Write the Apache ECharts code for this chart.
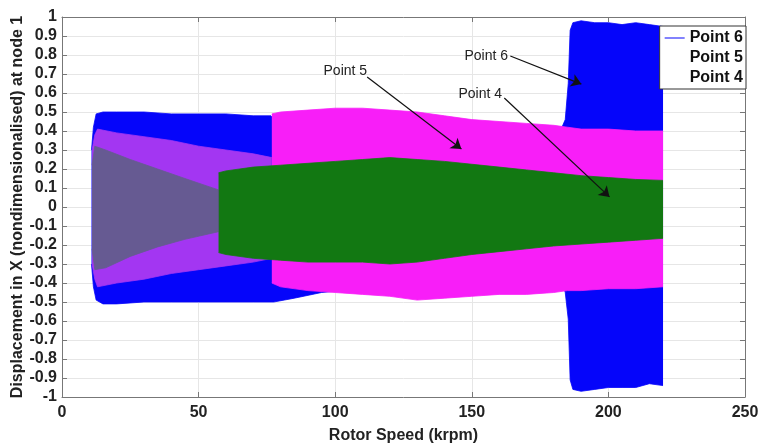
<!DOCTYPE html>
<html>
<head>
<meta charset="utf-8">
<script src="https://cdn.jsdelivr.net/npm/echarts@6/dist/echarts.min.js"></script>
<style>
  html, body { margin: 0; padding: 0; background: #fff; }
  #chart { width: 762px; height: 446px; }
</style>
</head>
<body>
<div id="chart"></div>
<script>
// envelopes: rotor speed (krpm) -> upper / lower displacement
// Point 6 (blue)
const speed6 = [10.8, 11.5, 12.5, 15, 20, 30, 40, 50, 60, 70, 76.5, 77.5, 85, 95, 110, 150, 183, 184.2, 185.3, 186, 187, 190, 195, 200, 205, 210, 215, 220];
const upper6 = [0.3, 0.42, 0.49, 0.5, 0.5, 0.5, 0.49, 0.49, 0.49, 0.48, 0.48, 0.46, 0.45, 0.44, 0.43, 0.41, 0.42, 0.46, 0.65, 0.93, 0.97, 0.98, 0.97, 0.97, 0.96, 0.97, 0.96, 0.95];
const lower6 = [-0.3, -0.42, -0.49, -0.51, -0.51, -0.5, -0.5, -0.5, -0.5, -0.5, -0.5, -0.5, -0.48, -0.45, -0.43, -0.41, -0.4, -0.45, -0.59, -0.91, -0.96, -0.97, -0.96, -0.95, -0.95, -0.95, -0.93, -0.94];

// Point 5, below 77 krpm (drawn over blue, looks violet)
const speed5a = [11, 12, 13, 20, 30, 40, 50, 60, 70, 76.8];
const upper5a = [0.3, 0.38, 0.41, 0.39, 0.37, 0.35, 0.32, 0.3, 0.28, 0.26];
const lower5a = [-0.3, -0.38, -0.42, -0.4, -0.38, -0.35, -0.33, -0.31, -0.29, -0.27];
// Point 5, above 77 krpm
const speed5b = [76.8, 80, 90, 100, 110, 120, 130, 140, 150, 160, 170, 180, 185, 190, 200, 210, 220];
const upper5b = [0.49, 0.5, 0.51, 0.52, 0.52, 0.51, 0.5, 0.48, 0.46, 0.45, 0.44, 0.43, 0.42, 0.41, 0.41, 0.4, 0.4];
const lower5b = [-0.4, -0.42, -0.44, -0.45, -0.46, -0.47, -0.49, -0.48, -0.47, -0.46, -0.46, -0.45, -0.44, -0.44, -0.43, -0.43, -0.42];

// Point 4, below 57 krpm (greyish)
const speed4a = [11, 12, 16, 25, 35, 45, 57.3];
const upper4a = [0.22, 0.32, 0.3, 0.25, 0.2, 0.15, 0.09];
const lower4a = [-0.22, -0.33, -0.32, -0.26, -0.21, -0.17, -0.13];
// Point 4, above 57 krpm (green)
const speed4b = [57.3, 60, 70, 80, 90, 100, 110, 120, 130, 140, 150, 160, 170, 180, 190, 200, 210, 220];
const upper4b = [0.18, 0.19, 0.21, 0.22, 0.23, 0.24, 0.25, 0.26, 0.25, 0.24, 0.225, 0.21, 0.195, 0.18, 0.165, 0.155, 0.145, 0.14];
const lower4b = [-0.24, -0.25, -0.27, -0.28, -0.29, -0.29, -0.29, -0.3, -0.29, -0.27, -0.25, -0.235, -0.22, -0.205, -0.195, -0.185, -0.175, -0.165];

const legendNames = ['Point 6', 'Point 5', 'Point 4'];

// text notes and arrows, in data coordinates
const noteText = ['Point 5', 'Point 6', 'Point 4'];
const noteAt = [[103.7, 0.716], [155.3, 0.795], [153.1, 0.595]];
const arrowFrom = [[111.7, 0.684], [164.1, 0.795], [161.9, 0.574]];
const arrowTo = [[146.2, 0.305], [190.1, 0.647], [200.4, 0.053]];

const FONT = '"Liberation Sans", Arial, sans-serif';

// one band = two filled lines (upper and lower) filling towards 0
let zNext = 2;
function band(name, color, xs, up, lo) {
    const make = (vals) => ({
        name: name,
        type: 'line',
        z: zNext++,
        symbol: 'none',
        silent: true,
        animation: false,
        lineStyle: { color: color, width: 0.8 },
        itemStyle: { color: color },
        areaStyle: { color: color, opacity: 1 },
        emphasis: { disabled: true },
        data: xs.map((x, i) => [x, vals[i]])
    });
    return [make(up), make(lo)];
}

const series = [].concat(
    band('Point 6', '#0505fa', speed6, upper6, lower6),
    band('Point 5', '#a336f2', speed5a, upper5a, lower5a),
    band('Point 5', '#f81ef8', speed5b, upper5b, lower5b),
    band('Point 4', '#665a92', speed4a, upper4a, lower4a),
    band('Point 4', '#127812', speed4b, upper4b, lower4b)
);

// annotations: high z so they are drawn over every band
const lastSeries = series[series.length - 1];
lastSeries.markLine = {
    silent: true,
    animation: false,
    z: 100,
    symbol: ['none', 'arrow'],
    symbolSize: 10,
    lineStyle: { color: '#111', width: 1.2, type: 'solid' },
    label: { show: false },
    data: arrowFrom.map((p, i) => [{ coord: p }, { coord: arrowTo[i] }])
};
lastSeries.markPoint = {
    silent: true,
    animation: false,
    z: 100,
    symbol: 'circle',
    symbolSize: 1,
    itemStyle: { color: 'rgba(0,0,0,0)' },
    label: {
        show: true,
        position: 'inside',
        color: '#222',
        fontFamily: FONT,
        fontSize: 14
    },
    data: noteAt.map((p, i) => ({ coord: p, value: noteText[i], label: { formatter: noteText[i] } }))
};

const gridColor = '#e6e6e6';
const frameColor = '#777';

const option = {
    backgroundColor: '#fff',
    animation: false,
    grid: { left: 62, right: 17, top: 17, bottom: 49, containLabel: false, outerBoundsMode: 'none' },
    legend: {
        data: [
            { name: legendNames[0] },
            { name: legendNames[1], itemStyle: { opacity: 0 } },
            { name: legendNames[2], itemStyle: { opacity: 0 } }
        ],
        orient: 'vertical',
        right: 16,
        top: 26,
        z: 200,
        icon: 'rect',
        itemWidth: 20,
        itemHeight: 1,
        itemGap: 4,
        padding: [4, 3, 3, 5],
        backgroundColor: '#fff',
        borderColor: '#333',
        borderWidth: 1,
        borderRadius: 0,
        selectedMode: false,
        textStyle: { fontFamily: FONT, fontSize: 16, fontWeight: 'bold', color: '#111', lineHeight: 16 }
    },
    xAxis: [{
        type: 'value',
        min: 0,
        max: 250,
        interval: 50,
        position: 'bottom',
        name: 'Rotor Speed (krpm)',
        nameLocation: 'middle',
        nameGap: 31,
        nameMoveOverlap: false,
        nameTextStyle: { fontFamily: FONT, fontSize: 16, fontWeight: 'bold', color: '#222' },
        axisLine: { show: true, onZero: false, lineStyle: { color: frameColor, width: 1 } },
        axisTick: { show: true, inside: true, length: 5, lineStyle: { color: frameColor } },
        axisLabel: { fontFamily: FONT, fontSize: 16, fontWeight: 'bold', color: '#222', margin: 8 },
        splitLine: { show: true, lineStyle: { color: gridColor, width: 1 } }
    }, {
        type: 'value',
        min: 0,
        max: 250,
        interval: 50,
        position: 'top',
        axisLine: { show: true, onZero: false, lineStyle: { color: frameColor, width: 1 } },
        axisTick: { show: true, inside: true, length: 5, lineStyle: { color: frameColor } },
        axisLabel: { show: false },
        splitLine: { show: false }
    }],
    yAxis: [{
        type: 'value',
        min: -1,
        max: 1,
        interval: 0.1,
        position: 'left',
        name: 'Displacement in X (nondimensionalised) at node 1',
        nameLocation: 'middle',
        nameGap: 36,
        nameMoveOverlap: false,
        nameTextStyle: { fontFamily: FONT, fontSize: 16, fontWeight: 'bold', color: '#222' },
        axisLine: { show: true, onZero: false, lineStyle: { color: frameColor, width: 1 } },
        axisTick: { show: true, inside: true, length: 5, lineStyle: { color: frameColor } },
        axisLabel: { fontFamily: FONT, fontSize: 16, fontWeight: 'bold', color: '#222', margin: 5 },
        splitLine: { show: true, lineStyle: { color: gridColor, width: 1 } }
    }, {
        type: 'value',
        min: -1,
        max: 1,
        interval: 0.1,
        position: 'right',
        axisLine: { show: true, onZero: false, lineStyle: { color: frameColor, width: 1 } },
        axisTick: { show: true, inside: true, length: 5, lineStyle: { color: frameColor } },
        axisLabel: { show: false },
        splitLine: { show: false }
    }],
    series: series
};

const myChart = echarts.init(document.getElementById('chart'), null, { renderer: 'canvas' });
option && myChart.setOption(option);
</script>
</body>
</html>
